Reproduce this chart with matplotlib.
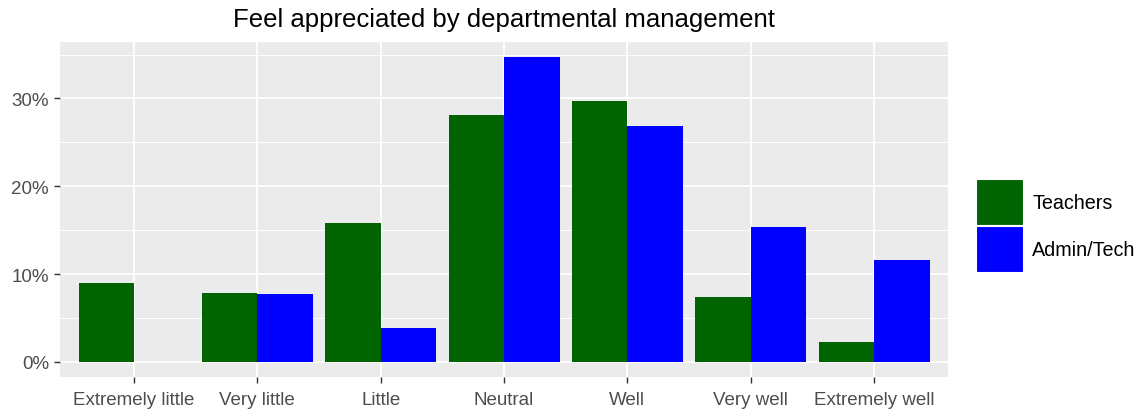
import numpy as np
import matplotlib.pyplot as plt
from matplotlib.patches import Patch

plt.rcParams['font.family'] = ['Liberation Sans', 'DejaVu Sans']

# data (percent)
categories = ["Extremely little", "Very little", "Little", "Neutral",
              "Well", "Very well", "Extremely well"]
teachers = [9.0, 7.8, 15.8, 28.1, 29.7, 7.4, 2.2]
admin_tech = [0.0, 7.7, 3.9, 34.7, 26.9, 15.3, 11.6]
groups = ["Teachers", "Admin/Tech"]
colors = ["#006400", "#0000FF"]
yticks = [0, 10, 20, 30]

fig = plt.figure(figsize=(11.47, 4.14), dpi=100)
ax = fig.add_axes([60 / 1147, 1 - 378 / 414, 888 / 1147, 335 / 414])

x = np.arange(1, len(categories) + 1)
w = 0.45
ax.bar(x - w / 2, teachers, width=w, color=colors[0], zorder=3)
ax.bar(x + w / 2, admin_tech, width=w, color=colors[1], zorder=3)

ax.set_facecolor("#EBEBEB")
ax.set_xlim(0.4, len(categories) + 0.6)
top = max(max(teachers), max(admin_tech))
ax.set_ylim(-0.05 * top, top * 1.05)
ax.set_yticks(yticks)
ax.set_yticklabels([f"{t}%" for t in yticks])
ax.set_yticks([5, 15, 25, 35], minor=True)
ax.set_xticks(x)
ax.set_xticklabels(categories)

ax.grid(True, which="major", color="white", linewidth=1.3, zorder=0)
ax.grid(True, which="minor", axis="y", color="white", linewidth=0.7, zorder=0)
ax.tick_params(axis="both", which="major", length=4, width=1, color="#333333",
               labelcolor="#4D4D4D", labelsize=13.5, pad=4)
ax.tick_params(axis="x", which="major", pad=6)
ax.tick_params(axis="y", which="minor", length=0)
for s in ax.spines.values():
    s.set_visible(False)

fig.suptitle("Feel appreciated by departmental management", fontsize=18.5,
             x=(60 + 948) / 2 / 1147, y=0.98, va="top")

handles = [Patch(facecolor=c, edgecolor="white", linewidth=1.5) for c in colors]
fig.legend(handles, groups, loc="center left", bbox_to_anchor=(966 / 1147, 0.452),
           frameon=False, fontsize=14.2, handlelength=2.45, handleheight=3.3,
           labelspacing=0.0, handletextpad=0.4, borderpad=0)

fig.savefig("out.png", dpi=100)
